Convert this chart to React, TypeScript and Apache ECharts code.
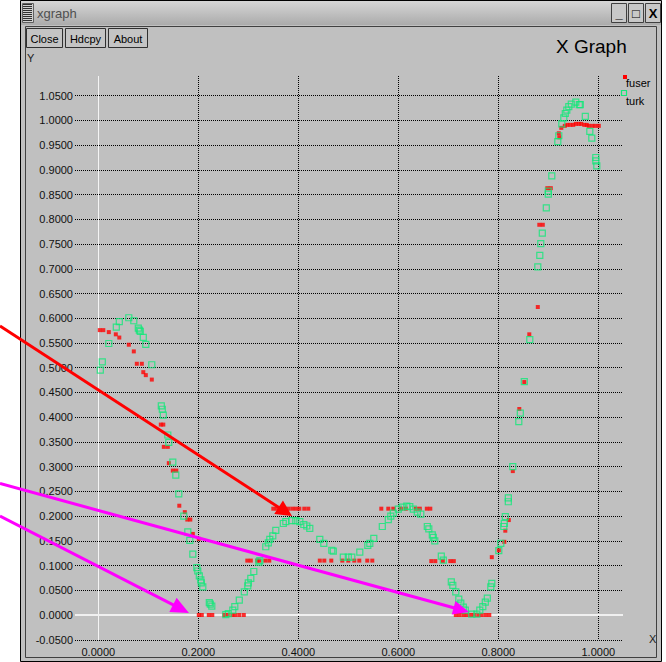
import React, { useEffect, useRef } from "react";
import * as echarts from "echarts";

const fuserX = [0.003, 0.010, 0.021, 0.035, 0.042, 0.061, 0.071, 0.077, 0.087, 0.090, 0.095, 0.107, 0.125, 0.130, 0.131, 0.139, 0.141, 0.149, 0.156, 0.162, 0.173, 0.178, 0.184, 0.189, 0.201,
  0.201, 0.207, 0.221, 0.228, 0.252, 0.259, 0.268, 0.274, 0.282, 0.291,
  0.298, 0.305, 0.318, 0.322, 0.334, 0.342,
  0.350, 0.357, 0.364, 0.372, 0.380, 0.388, 0.395, 0.402, 0.412, 0.420,
  0.443, 0.452, 0.466, 0.488, 0.500, 0.512, 0.522, 0.538, 0.548,
  0.566, 0.580, 0.590, 0.605, 0.615, 0.635, 0.643, 0.657, 0.664,
  0.666, 0.674, 0.689, 0.704, 0.711,
  0.715, 0.722, 0.730, 0.737, 0.745, 0.752, 0.760, 0.767, 0.775, 0.782,
  0.787, 0.801, 0.812, 0.814, 0.821, 0.829, 0.842, 0.852, 0.862, 0.879, 0.882, 0.889, 0.898, 0.905,
  0.921, 0.922, 0.926, 0.933, 0.938, 0.944, 0.950, 0.955, 0.961, 0.966, 0.972, 0.977, 0.981, 0.988, 0.994, 1.001];
const fuserY = [0.576, 0.576, 0.572, 0.5675, 0.561, 0.5465, 0.533, 0.508, 0.508, 0.491, 0.485, 0.476, 0.385, 0.385, 0.340, 0.340, 0.307, 0.292, 0.292, 0.221, 0.208, 0.193, 0.193, 0.164, 0.154,
  0, 0, 0, 0, 0, 0, 0, 0, 0, 0,
  0.110, 0.110, 0.110, 0.110, 0.110, 0.110,
  0.215, 0.215, 0.215, 0.215, 0.215, 0.215, 0.215, 0.215, 0.215, 0.215,
  0.110, 0.110, 0.110, 0.110, 0.110, 0.110, 0.110, 0.110, 0.110,
  0.215, 0.215, 0.215, 0.215, 0.215, 0.215, 0.215, 0.215, 0.215,
  0.109, 0.109, 0.109, 0.109, 0.109,
  0, 0, 0, 0, 0, 0, 0, 0, 0, 0,
  0.117, 0.131, 0.148, 0.1705, 0.192, 0.291, 0.4165, 0.471, 0.5675, 0.6227, 0.789, 0.789, 0.863, 0.863,
  0.974, 0.966, 0.985, 0.989, 0.991, 0.991, 0.991, 0.993, 0.993, 0.993, 0.991, 0.991, 0.989, 0.989, 0.989, 0.989];

const turkX = [0.004, 0.008, 0.021, 0.036, 0.042, 0.061, 0.071, 0.080, 0.082, 0.084, 0.090, 0.095, 0.107, 0.126, 0.128, 0.130, 0.139, 0.141, 0.149, 0.155, 0.161, 0.171, 0.179, 0.183, 0.189, 0.197, 0.199, 0.202, 0.205, 0.206, 0.209,
  0.222, 0.224, 0.227, 0.255, 0.260, 0.269, 0.273, 0.282, 0.292, 0.299, 0.300, 0.305, 0.311, 0.321, 0.323, 0.335, 0.340, 0.343, 0.349, 0.355, 0.370, 0.375, 0.387, 0.395, 0.403, 0.411, 0.417, 0.423,
  0.443, 0.451, 0.467, 0.470, 0.490, 0.500, 0.507, 0.523, 0.539, 0.543, 0.551, 0.568, 0.580, 0.585, 0.590, 0.600, 0.608, 0.617, 0.623, 0.630, 0.638, 0.645, 0.658, 0.661, 0.668, 0.670, 0.673, 0.686, 0.690,
  0.706, 0.709, 0.715, 0.721, 0.725, 0.730, 0.734, 0.747, 0.757, 0.763, 0.769, 0.774, 0.778, 0.785, 0.787, 0.801, 0.805, 0.811, 0.812, 0.814, 0.820, 0.820, 0.829, 0.841, 0.844, 0.852, 0.863,
  0.879, 0.883, 0.885, 0.888, 0.896, 0.900, 0.900, 0.907, 0.919, 0.921, 0.927, 0.931, 0.934, 0.937, 0.941, 0.946, 0.955, 0.962, 0.964, 0.974, 0.983, 0.987, 0.995, 0.995, 0.997];
const turkY = [0.495, 0.512, 0.549, 0.582, 0.593, 0.601, 0.595, 0.580, 0.576, 0.5735, 0.5615, 0.547, 0.506, 0.423, 0.416, 0.404, 0.364, 0.349, 0.309, 0.283, 0.245, 0.200, 0.168, 0.151, 0.123, 0.096, 0.089, 0.079, 0.071, 0.065, 0.057,
  0.025, 0.022, 0.018, 0.001, 0.003, 0.010, 0.017, 0.030, 0.047, 0.059, 0.065, 0.074, 0.088, 0.107, 0.110, 0.138, 0.146, 0.153, 0.160, 0.171, 0.185, 0.189, 0.191, 0.191, 0.189, 0.183, 0.180, 0.175,
  0.153, 0.145, 0.131, 0.129, 0.117, 0.117, 0.117, 0.127, 0.141, 0.145, 0.155, 0.179, 0.193, 0.200, 0.206, 0.214, 0.218, 0.220, 0.219, 0.214, 0.208, 0.204, 0.179, 0.174, 0.162, 0.157, 0.150, 0.119, 0.111,
  0.067, 0.060, 0.047, 0.032, 0.024, 0.016, 0.010, 0.002, 0.002, 0.010, 0.017, 0.026, 0.034, 0.057, 0.064, 0.130, 0.145, 0.179, 0.185, 0.199, 0.229, 0.237, 0.300, 0.391, 0.408, 0.472, 0.557,
  0.704, 0.727, 0.751, 0.772, 0.823, 0.851, 0.857, 0.888, 0.957, 0.969, 0.993, 1.005, 1.014, 1.021, 1.028, 1.033, 1.037, 1.032, 1.032, 1.008, 0.978, 0.964, 0.925, 0.918, 0.908];

const xTicks = [0, 0.2, 0.4, 0.6, 0.8, 1.0];
const yTicks = [-0.05, 0, 0.05, 0.1, 0.15, 0.2, 0.25, 0.3, 0.35, 0.4, 0.45, 0.5, 0.55, 0.6, 0.65, 0.7, 0.75, 0.8, 0.85, 0.9, 0.95, 1.0, 1.05];
const seriesNames = ["fuser", "turk"];

const FONT = "'Liberation Sans', Arial, Helvetica, sans-serif";
const RED = "#ff0000";
const GREEN = "#10e878";
const MAGENTA = "#ff00ff";

function arrow(x0: number, y0: number, tx: number, ty: number, L: number, W: number, color: string) {
  const dx = tx - x0, dy = ty - y0;
  const len = Math.hypot(dx, dy);
  const ux = dx / len, uy = dy / len;
  const bx = tx - L * ux, by = ty - L * uy;
  const px = -uy, py = ux;
  return [
    { type: "line", z: 100, shape: { x1: x0, y1: y0, x2: bx + ux * 3, y2: by + uy * 3 }, style: { stroke: color, lineWidth: 3 } },
    { type: "polygon", z: 100, shape: { points: [[tx, ty], [bx + W * px, by + W * py], [bx - W * px, by - W * py]] }, style: { fill: color } },
  ];
}

function button(x: number, y: number, w: number, h: number, label: string) {
  return [
    { type: "rect", z: -5, shape: { x: x + 0.5, y: y + 0.5, width: w, height: h }, style: { fill: "#c4c4c4", stroke: "#303030", lineWidth: 1 } },
    { type: "text", z: -4, x: x + w / 2 + 0.5, y: y + h / 2 + 1, style: { text: label, font: `11px ${FONT}`, fill: "#000", align: "center", verticalAlign: "middle" } },
  ];
}

export default function App() {
  const ref = useRef<HTMLDivElement>(null);
  useEffect(() => {
    if (!ref.current) return;
    const chart = echarts.init(ref.current, undefined, { renderer: "svg" });
    const menuLines: any[] = [];
    for (let i = 0; i < 9; i++) {
      menuLines.push({ type: "line", z: -8, shape: { x1: 23, y1: 4.5 + i * 2, x2: 32, y2: 4.5 + i * 2 }, style: { stroke: "#303030", lineWidth: 1 } });
    }
    const winBtns: any[] = [];
    const wb = [611, 628, 645];
    const glyph = ["_", "\u25A1", "X"];
    wb.forEach((bx, i) => {
      winBtns.push({ type: "rect", z: -8, shape: { x: bx + 0.5, y: 3.5, width: 15, height: 19 }, style: { fill: "#c8c8c8", stroke: "#404040", lineWidth: 1 } });
      winBtns.push({ type: "text", z: -7, x: bx + 8, y: 13, style: { text: glyph[i], font: `bold 13px ${FONT}`, fill: "#000", align: "center", verticalAlign: "middle" } });
    });

    const graphic: any[] = [
      { type: "rect", z: -10, shape: { x: 20.5, y: 0.5, width: 641, height: 661 }, style: { fill: "#c0c0c0", stroke: "#000", lineWidth: 1 } },
      {
        type: "rect", z: -9, shape: { x: 21, y: 1, width: 640, height: 24 },
        style: { fill: { type: "linear", x: 0, y: 0, x2: 0, y2: 1, colorStops: [{ offset: 0, color: "#d6d6d6" }, { offset: 1, color: "#ababab" }] } },
      },
      { type: "rect", z: -9, shape: { x: 22.5, y: 3.5, width: 11, height: 19 }, style: { fill: "#d0d0d0", stroke: "#606060", lineWidth: 1 } },
      ...menuLines,
      { type: "text", z: -8, x: 37, y: 13, style: { text: "xgraph", font: `13px ${FONT}`, fill: "#505050", verticalAlign: "middle" } },
      ...winBtns,
      { type: "rect", z: -9, shape: { x: 25.5, y: 26.5, width: 631, height: 631 }, style: { fill: "none", stroke: "#404040", lineWidth: 1 } },
      ...button(26, 28, 36, 19, "Close"),
      ...button(65, 28, 40, 19, "Hdcpy"),
      ...button(108, 28, 39, 19, "About"),
      { type: "text", z: 5, x: 556, y: 46, style: { text: "X Graph", font: `19px ${FONT}`, fill: "#000", verticalAlign: "middle" } },
      { type: "text", z: 5, x: 27, y: 58, style: { text: "Y", font: `11px ${FONT}`, fill: "#202020", verticalAlign: "middle" } },
      { type: "text", z: 5, x: 649, y: 639, style: { text: "X", font: `11px ${FONT}`, fill: "#202020", verticalAlign: "middle" } },
      { type: "rect", z: 5, shape: { x: 623, y: 75, width: 4, height: 4 }, style: { fill: RED } },
      { type: "text", z: 5, x: 626, y: 83, style: { text: seriesNames[0], font: `11px ${FONT}`, fill: "#000", verticalAlign: "middle" } },
      { type: "rect", z: 5, shape: { x: 621.5, y: 90.5, width: 5, height: 5 }, style: { fill: "none", stroke: GREEN, lineWidth: 1.2 } },
      { type: "text", z: 5, x: 626, y: 101, style: { text: seriesNames[1], font: `11px ${FONT}`, fill: "#000", verticalAlign: "middle" } },
      ...arrow(0, 326, 292, 516, 16, 8, RED),
      ...arrow(0, 483.5, 469, 612, 16, 7, MAGENTA),
      ...arrow(0, 516, 189, 613, 18, 8, MAGENTA),
    ];

    const fuserData = fuserX.map((x, i) => [x, fuserY[i]]);
    const turkData = turkX.map((x, i) => [x, turkY[i]]);

    chart.setOption({
      animation: false,
      backgroundColor: "#ffffff",
      grid: { left: 75, top: 76, width: 548, height: 564, containLabel: false },
      xAxis: {
        type: "value", min: -0.0466, max: 1.0494,
        axisLine: { show: false },
        axisTick: { show: false, customValues: xTicks },
        axisLabel: { customValues: xTicks, formatter: (v: number) => v.toFixed(4), fontSize: 11, fontFamily: FONT, color: "#111", margin: 6 },
        splitLine: { show: true, lineStyle: { color: "#000", type: "dotted", width: 1 } },
      },
      yAxis: {
        type: "value", min: -0.0505, max: 1.0898,
        axisLine: { show: false },
        axisTick: { show: false, customValues: yTicks },
        axisLabel: { customValues: yTicks, formatter: (v: number) => v.toFixed(4), fontSize: 11, fontFamily: FONT, color: "#111", margin: 2 },
        splitLine: { show: true, lineStyle: { color: "#000", type: "dotted", width: 1 } },
      },
      graphic,
      series: [
        {
          name: seriesNames[0], type: "scatter", z: 3, data: fuserData,
          symbol: "rect", symbolSize: 4, itemStyle: { color: RED },
          markLine: {
            z: 1, silent: true, symbol: "none", label: { show: false },
            data: [
              { xAxis: 0, lineStyle: { color: "#f4f4f4", width: 1, type: "solid" } },
              { yAxis: 0, lineStyle: { color: "#f0f0f0", width: 2, type: "solid" } },
            ],
          },
        },
        {
          name: seriesNames[1], type: "scatter", z: 4, data: turkData,
          symbol: "rect", symbolSize: 6, itemStyle: { color: "rgba(0,0,0,0)", borderColor: GREEN, borderWidth: 1.2 },
        },
      ],
    });
    return () => chart.dispose();
  }, []);
  return <div ref={ref} style={{ position: "absolute", left: 0, top: 0, width: 666, height: 662 }} />;
}
